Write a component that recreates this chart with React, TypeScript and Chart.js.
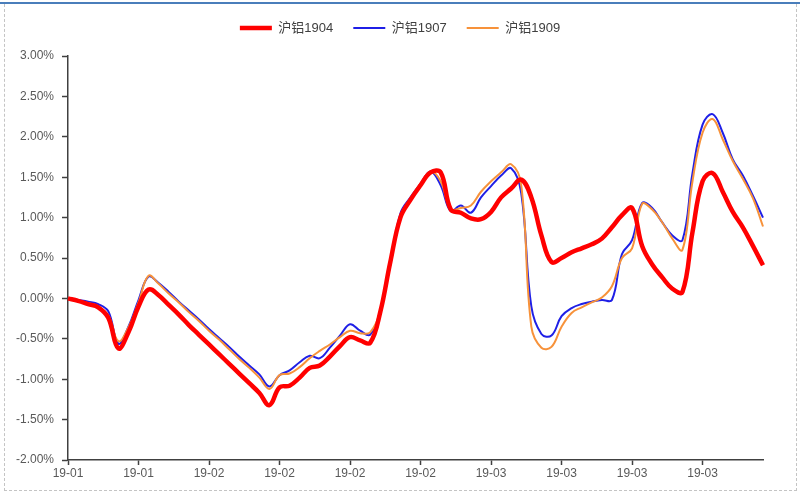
import React, { useEffect, useRef } from "react";
import { Chart, registerables } from "chart.js";

Chart.register(...registerables);

// calendar days from 2019-01-21, one category per day
const startYear = 2019;
const startMonth = 0;
const startDay = 21;
const dayCount = 70;
const tickEvery = 7;
const lastTickIndex = 63;

const seriesNames = ["沪铝1904", "沪铝1907", "沪铝1909"];
const seriesColors = ["#ff0000", "#1f1fe6", "#f7923a"];
const seriesWidths = [4.5, 2, 2];
const seriesOrder = [0, 2, 1];

const al1904 = [
  0.0, -0.03, -0.07, -0.11, -0.24, -0.62, -0.42, -0.1, 0.11, 0.04,
  -0.08, -0.2, -0.33, -0.45, -0.57, -0.69, -0.81, -0.93, -1.05, -1.17,
  -1.32, -1.1, -1.08, -0.98, -0.86, -0.83, -0.72, -0.59, -0.48, -0.52,
  -0.55, -0.17, 0.45, 1.0, 1.22, 1.4, 1.56, 1.56, 1.1, 1.06,
  0.99, 0.98, 1.07, 1.25, 1.36, 1.47, 1.25, 0.78, 0.45, 0.5,
  0.57, 0.62, 0.67, 0.74, 0.88, 1.03, 1.12, 0.65, 0.42, 0.26,
  0.12, 0.08, 0.82, 1.45, 1.55, 1.32, 1.07, 0.88, 0.65, 0.41,
];

const al1907 = [
  0.0, -0.02, -0.04, -0.07, -0.16, -0.56, -0.35, -0.02, 0.27, 0.19,
  0.08, -0.04, -0.15, -0.26, -0.38, -0.49, -0.6, -0.72, -0.83, -0.94,
  -1.09, -0.95, -0.89, -0.79, -0.71, -0.74, -0.61, -0.46, -0.32, -0.4,
  -0.45, -0.16, 0.42, 1.05, 1.25, 1.42, 1.57, 1.4, 1.08, 1.15,
  1.06, 1.25, 1.39, 1.52, 1.61, 1.3, -0.1, -0.44, -0.46, -0.22,
  -0.12, -0.07, -0.04, -0.02, -0.02, 0.55, 0.72, 1.18, 1.12, 0.94,
  0.78, 0.72, 1.55, 2.15, 2.28, 2.05, 1.72, 1.52, 1.27, 1.0,
];

const al1909 = [
  0.0, -0.03, -0.06, -0.1, -0.21, -0.53, -0.36, -0.05, 0.28, 0.18,
  0.06, -0.05, -0.17, -0.28, -0.4, -0.51, -0.63, -0.75, -0.86, -0.98,
  -1.12, -0.95, -0.93, -0.85, -0.74, -0.65, -0.57, -0.48, -0.4, -0.43,
  -0.42, -0.15, 0.42, 1.02, 1.24, 1.42, 1.57, 1.45, 1.1, 1.12,
  1.15, 1.32, 1.45, 1.56, 1.66, 1.4, -0.35, -0.61, -0.6, -0.35,
  -0.18, -0.11, -0.05, 0.01, 0.15, 0.5, 0.62, 1.17, 1.1, 0.94,
  0.74, 0.6, 1.45, 2.05, 2.22, 1.97, 1.7, 1.48, 1.24, 0.89,
];

const yMin = -2;
const yMax = 3;
const yStep = 0.5;

const pad2 = (n: number) => (n < 10 ? "0" + n : String(n));
const categories: string[] = [];
for (let i = 0; i < dayCount; i++) {
  const d = new Date(startYear, startMonth, startDay + i);
  categories.push(
    String(d.getFullYear()).slice(2) + "-" + pad2(d.getMonth() + 1) + "-" + pad2(d.getDate())
  );
}

const axisColor = "#404040";
const textColor = "#595959";
const fontFamily = "'Liberation Sans', Arial, 'Noto Sans CJK SC', sans-serif";

const legendSpacer = {
  id: "legendSpacer",
  beforeInit(chart: any) {
    const origFit = chart.legend.fit;
    chart.legend.fit = function fit() {
      origFit.bind(chart.legend)();
      this.height += 11.5;
    };
  },
};

export default function App() {
  const ref = useRef<HTMLCanvasElement>(null);

  useEffect(() => {
    if (!ref.current) return;
    const datasets = [al1904, al1907, al1909].map((data, k) => ({
      label: seriesNames[k],
      data,
      borderColor: seriesColors[k],
      backgroundColor: seriesColors[k],
      borderWidth: seriesWidths[k],
      order: seriesOrder[k],
      pointRadius: 0,
      tension: 0.4,
      fill: false,
    }));

    const chart = new Chart(ref.current, {
      type: "line",
      data: { labels: categories, datasets },
      plugins: [legendSpacer],
      options: {
        responsive: false,
        animation: false,
        layout: { padding: { top: 1.5, left: 0, right: 0, bottom: 0 } },
        plugins: {
          legend: {
            position: "top",
            align: "center",
            labels: {
              usePointStyle: true,
              pointStyle: "line",
              pointStyleWidth: 32,
              padding: 20,
              color: "#404040",
              font: { family: fontFamily, size: 13 },
              sort: (a: any, b: any) => a.datasetIndex - b.datasetIndex,
            },
          },
          tooltip: { enabled: false },
        },
        scales: {
          x: {
            type: "category",
            offset: false,
            border: { display: true, color: axisColor, width: 1.5 },
            grid: {
              drawOnChartArea: false,
              drawTicks: true,
              tickLength: 5,
              tickColor: (ctx: any) =>
                ctx.index % tickEvery === 0 && ctx.index <= lastTickIndex ? axisColor : "rgba(0,0,0,0)",
              tickWidth: 1.5,
            },
            ticks: {
              autoSkip: false,
              maxRotation: 0,
              minRotation: 0,
              padding: 1,
              color: textColor,
              font: { family: fontFamily, size: 12 },
              callback: function (this: any, _v: any, index: number) {
                if (index % tickEvery !== 0 || index > lastTickIndex) return "";
                return categories[index].slice(0, 5);
              },
            },
            afterFit: (s: any) => {
              s.height = 40;
            },
          },
          y: {
            type: "linear",
            position: "left",
            min: yMin,
            max: yMax,
            border: { display: true, color: axisColor, width: 1.5 },
            grid: {
              drawOnChartArea: false,
              drawTicks: true,
              tickLength: 6,
              tickColor: axisColor,
              tickWidth: 1.5,
            },
            ticks: {
              stepSize: yStep,
              padding: 8,
              color: textColor,
              font: { family: fontFamily, size: 12 },
              callback: (v: any) => Number(v).toFixed(2) + "%",
            },
            afterFit: (s: any) => {
              s.width = 68;
            },
          },
          y2: {
            type: "linear",
            position: "right",
            display: true,
            grid: { display: false },
            border: { display: false },
            ticks: { display: false },
            afterFit: (s: any) => {
              s.width = 37;
            },
          },
        },
      },
    } as any);
    return () => chart.destroy();
  }, []);

  return (
    <div style={{ position: "absolute", left: 0, top: 0, width: 800, height: 500, background: "#fff" }}>
      <div style={{ position: "absolute", left: 0, top: 2, width: 800, height: 2, background: "#4a7ebb" }} />
      <div
        style={{
          position: "absolute",
          left: 4,
          top: 4,
          width: 791,
          height: 486,
          borderLeft: "1px dashed #c4c4c4",
          borderRight: "1px dashed #c4c4c4",
          borderBottom: "1px dashed #c4c4c4",
        }}
      />
      <canvas ref={ref} width={800} height={500} style={{ position: "absolute", left: 0, top: 0 }} />
    </div>
  );
}
